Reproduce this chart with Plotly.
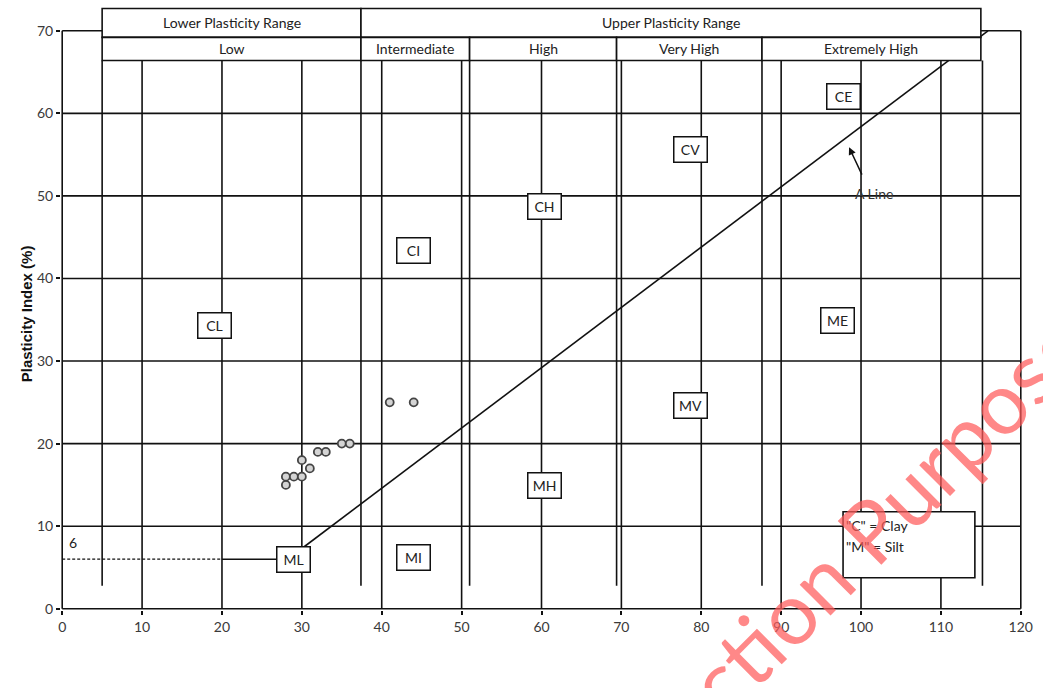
import plotly.graph_objects as go

# ---- sample results (liquid limit %, plasticity index %) ----
liquid_limit = [28, 28, 29, 30, 30, 31, 32, 33, 35, 36, 41, 44]
plasticity_index = [15, 16, 16, 16, 18, 17, 19, 19, 20, 20, 25, 25]

# ---- axis ticks ----
x_ticks = list(range(0, 121, 10))
y_ticks = list(range(0, 71, 10))

# ---- plasticity ranges (LL boundaries as drawn on the chart) ----
range_bounds = [5, 37.4, 51, 69.4, 87.6, 115.2]
range_names = ["Low", "Intermediate", "High", "Very High", "Extremely High"]
group_names = ["Lower Plasticity Range", "Upper Plasticity Range"]

# ---- soil class labels (label, LL, PI) ----
class_labels = ["CL", "CI", "CH", "CV", "CE", "ML", "MI", "MH", "MV", "ME"]
class_ll = [19.1, 44, 60.4, 78.6, 97.8, 29, 44, 60.4, 78.7, 97.1]
class_pi = [34.3, 43.4, 48.7, 55.6, 62.1, 6.0, 6.2, 14.9, 24.6, 34.9]

# ---- A-line: PI = 0.73 (LL - 20) ----
a_slope, a_ll0 = 0.73, 20
a_start_ll = 30
a_end_pi = 70
a_line_ll = [a_start_ll, a_ll0 + a_end_pi / a_slope]
a_line_pi = [a_slope * (v - a_ll0) for v in a_line_ll]

# ---- PI = 6 line ----
pi6 = 6
pi6_dashed_ll = [0, 20]
pi6_solid_ll = [20, 30]

INK = "#111111"
LW = 1.6
TXT = "Lato, 'Open Sans', sans-serif"

# header band (PI units above the plot top)
hdr_bottom, hdr_mid, hdr_top = 66.4, 69.2, 72.7

shapes = []


def seg(x0, y0, x1, y1, dash=None, width=LW, layer="below"):
    line = dict(color=INK, width=width)
    if dash:
        line["dash"] = dash
    shapes.append(dict(type="line", xref="x", yref="y", x0=x0, y0=y0,
                       x1=x1, y1=y1, line=line, layer=layer))


# horizontal grid lines and frame
for yv in y_ticks:
    seg(0, yv, 120, yv)
# vertical grid lines (the frame sides reach 70)
for xv in x_ticks:
    top = 70 if xv in (0, 120) else hdr_bottom
    seg(xv, 0, xv, top)
# range boundary lines
for b in range_bounds:
    seg(b, 2.8, b, hdr_bottom)

# PI = 6 line
seg(pi6_dashed_ll[0], pi6, pi6_dashed_ll[1], pi6, dash="3px,2px", width=1.2)
seg(pi6_solid_ll[0], pi6, pi6_solid_ll[1], pi6, width=1.4)

# A-line
seg(a_line_ll[0], a_line_pi[0], a_line_ll[1], a_line_pi[1], layer="above")

# header boxes (white fill hides the lines behind)
left, right = range_bounds[0], 115.0
split = range_bounds[1]
for x0, x1 in [(left, split), (split, right)]:
    shapes.append(dict(type="rect", xref="x", yref="y", x0=x0, x1=x1,
                       y0=hdr_mid, y1=hdr_top, fillcolor="white",
                       line=dict(color=INK, width=LW), layer="above"))
row2_edges = range_bounds[:5] + [right]
for i in range(5):
    shapes.append(dict(type="rect", xref="x", yref="y", x0=row2_edges[i],
                       x1=row2_edges[i + 1], y0=hdr_bottom, y1=hdr_mid,
                       fillcolor="white", line=dict(color=INK, width=LW),
                       layer="above"))

# key box
shapes.append(dict(type="rect", xref="x", yref="y", x0=97.75, x1=114.25,
                   y0=3.75, y1=11.75, fillcolor="white",
                   line=dict(color=INK, width=LW), layer="above"))

annotations = []
# header texts
group_x = [(left + split) / 2, (split + right) / 2]
for name, gx in zip(group_names, group_x):
    annotations.append(dict(x=gx, y=(hdr_mid + hdr_top) / 2, xref="x", yref="y",
                            text=name, showarrow=False,
                            font=dict(family=TXT, size=14, color="#222")))
for i, name in enumerate(range_names):
    annotations.append(dict(x=(row2_edges[i] + row2_edges[i + 1]) / 2,
                            y=(hdr_bottom + hdr_mid) / 2, xref="x", yref="y",
                            text=name, showarrow=False,
                            font=dict(family=TXT, size=14, color="#222")))

# class label boxes
for lab, lx, ly in zip(class_labels, class_ll, class_pi):
    annotations.append(dict(x=lx, y=ly, xref="x", yref="y", text=lab,
                            showarrow=False, bgcolor="white",
                            bordercolor=INK, borderwidth=1.5, borderpad=3,
                            width=26, height=18,
                            font=dict(family=TXT, size=14, color="#222")))

# "6" label
annotations.append(dict(x=1.4, y=8.0, xref="x", yref="y", text="6",
                        showarrow=False,
                        font=dict(family=TXT, size=14, color="#222")))

# A-line pointer and label
annotations.append(dict(x=98.5, y=55.9, xref="x", yref="y", ax=100.2, ay=52.4,
                        axref="x", ayref="y", text="", showarrow=True,
                        arrowhead=2, arrowsize=1, arrowwidth=1.5,
                        arrowcolor=INK))
annotations.append(dict(x=101.6, y=50.3, xref="x", yref="y", text="A Line",
                        showarrow=False,
                        font=dict(family=TXT, size=14, color="#333")))

# key text
annotations.append(dict(x=97.9, y=10.05, xref="x", yref="y",
                        text='"C" = Clay', showarrow=False, xanchor="left",
                        font=dict(family=TXT, size=14, color="#222")))
annotations.append(dict(x=97.9, y=7.5, xref="x", yref="y",
                        text='"M" = Silt', showarrow=False, xanchor="left",
                        font=dict(family=TXT, size=14, color="#222")))

# axis titles
annotations.append(dict(x=-0.046, y=35.7, xref="paper", yref="y",
                        text="<b>Plasticity Index (%)</b>", textangle=-90,
                        showarrow=False,
                        font=dict(family="Liberation Sans, Arial", size=15,
                                  color="#111")))
annotations.append(dict(x=60, y=-6.6, xref="x", yref="y",
                        text="<b>Liquid Limt (%)</b>", showarrow=False,
                        font=dict(family="Liberation Sans, Arial", size=13,
                                  color="#111")))

# watermark
annotations.append(dict(x=95.9, y=4.6, xref="x", yref="y",
                        text="Inspection Purposes", textangle=-45,
                        showarrow=False,
                        font=dict(family=TXT, size=86,
                                  color="rgba(255,90,90,0.72)")))

fig = go.Figure()
fig.add_trace(go.Scatter(
    x=liquid_limit, y=plasticity_index, mode="markers",
    marker=dict(size=8, color="#d4d4d4",
                line=dict(color="#444444", width=1.8)),
    showlegend=False, hoverinfo="x+y"))

fig.update_layout(
    width=1043, height=688,
    margin=dict(l=61, r=21, t=6, b=78, autoexpand=False),
    paper_bgcolor="white", plot_bgcolor="white",
    shapes=shapes, annotations=annotations, showlegend=False,
)
fig.update_xaxes(range=[-0.15, 120.15], tickvals=x_ticks, showgrid=False,
                 zeroline=False, showline=False, ticks="outside", ticklen=4,
                 tickwidth=1.5, tickcolor=INK,
                 tickfont=dict(family=TXT, size=14, color="#3a3a3a"))
fig.update_yaxes(range=[-0.15, 73], tickvals=y_ticks, showgrid=False,
                 zeroline=False, showline=False, ticks="outside", ticklen=4,
                 tickwidth=1.5, tickcolor=INK,
                 tickfont=dict(family=TXT, size=14, color="#3a3a3a"))

fig.write_html("out.html")
